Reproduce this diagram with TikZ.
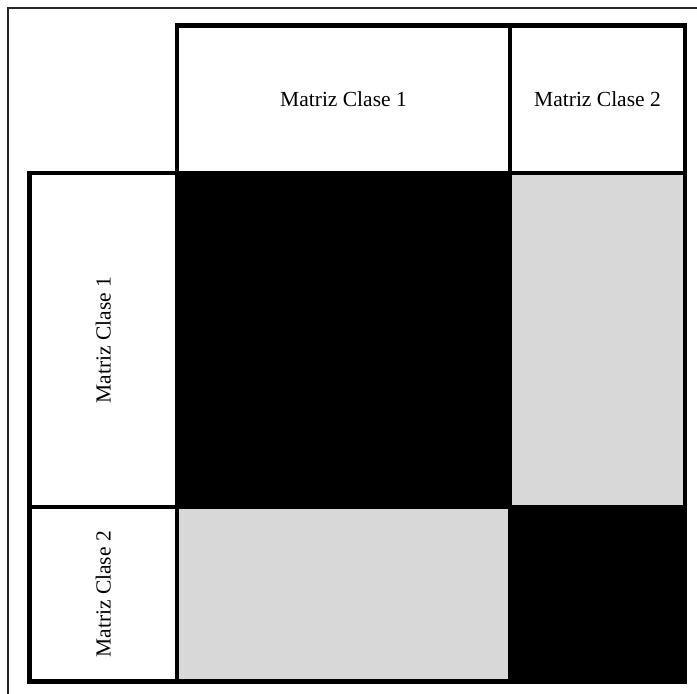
\documentclass[tikz,border=0pt]{standalone}
\usepackage{fontspec}
\setmainfont{Liberation Serif}
\begin{document}
\begin{tikzpicture}[x=1pt,y=-1pt,
  cell/.style={draw=black, line width=4.2pt, inner sep=0pt, outer sep=0pt,
    font=\fontsize{21.5}{24}\selectfont},
  hdr/.style={cell, fill=white},
  dark/.style={cell, fill=black},
  light/.style={cell, fill=lightcell},
  frameline/.style={draw=black!85, line width=1.6pt}]
\definecolor{lightcell}{HTML}{D8D8D8}
\useasboundingbox (0,0) rectangle (697,694);
% outer frame (only its top and left sides fall inside the page)
\coordinate (fa) at (8,694);
\coordinate (fb) at (8,8);
\coordinate (fc) at (697,8);
\draw[frameline] (fa) -- (fb) -- (fc);
% column headers
\node[hdr, minimum width=333pt, minimum height=147.5pt] (c1) at (343.5,99.25) {Matriz Clase 1};
\node[hdr, minimum width=175pt, minimum height=147.5pt] (c2) at (597.5,99.25) {Matriz Clase 2};
% row headers
\node[hdr, minimum width=147.5pt, minimum height=334pt] (r1) at (103.25,340) {\rotatebox{90}{Matriz Clase 1}};
\node[hdr, minimum width=147.5pt, minimum height=174.5pt] (r2) at (103.25,594.25) {\rotatebox{90}{Matriz Clase 2}};
% matrix blocks
\node[dark, minimum width=333pt, minimum height=334pt] (m11) at (343.5,340) {};
\node[light, minimum width=175pt, minimum height=334pt] (m12) at (597.5,340) {};
\node[light, minimum width=333pt, minimum height=174.5pt] (m21) at (343.5,594.25) {};
\node[dark, minimum width=175pt, minimum height=174.5pt] (m22) at (597.5,594.25) {};
\end{tikzpicture}
\end{document}
